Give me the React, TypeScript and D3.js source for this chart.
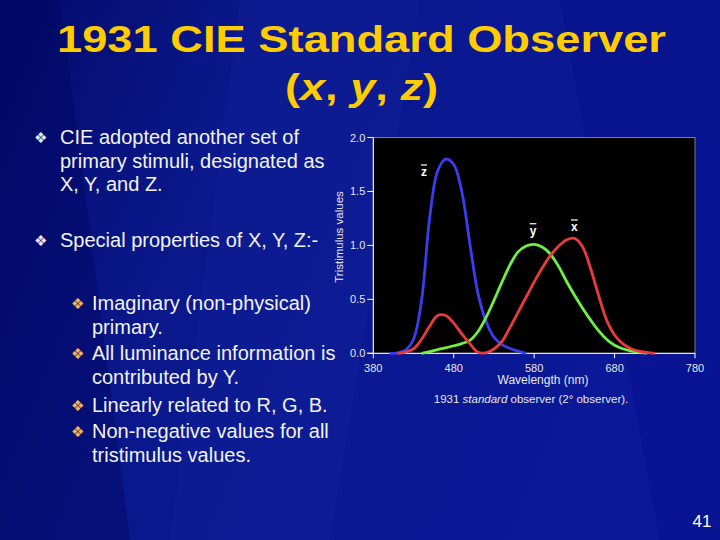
import React from "react";
import * as d3 from "d3";

const wavelengths = [400,410,420,430,440,450,460,470,480,490,500,510,520,530,540,550,560,570,580,590,600,610,620,630,640,650,660,670,680,690,700,710,720,730];
const zBar = [0.0,0.005,0.03,0.13,0.49,1.25,1.69,1.80,1.75,1.50,1.02,0.56,0.30,0.15,0.08,0.045,0.02,0.0,null,null,null,null,null,null,null,null,null,null,null,null,null,null,null,null];
const xBar = [null,0.0,0.01,0.04,0.13,0.25,0.35,0.35,0.28,0.18,0.09,0.01,0.005,0.04,0.11,0.24,0.38,0.52,0.66,0.79,0.905,0.99,1.05,1.065,0.99,0.79,0.54,0.31,0.17,0.09,0.045,0.02,0.008,0.0];
const yBar = [null,null,null,null,0.0,0.015,0.035,0.05,0.07,0.09,0.12,0.20,0.33,0.49,0.66,0.82,0.94,0.995,1.01,0.985,0.92,0.81,0.67,0.54,0.42,0.31,0.21,0.13,0.075,0.042,0.022,0.01,0.0,null];

const xTicks = [380,480,580,680,780];
const yTicks = [0,0.5,1.0,1.5,2.0];

const seriesNames = ["z", "y", "x"];
const seriesColors = ["#3c3cf0", "#70f040", "#e83c3c"];
const labelPos = [[443, 1.64], [578.6, 1.095], [630, 1.13]];

const bullets1 = [["CIE adopted another set of", "primary stimuli, designated as", "X, Y, and Z."], ["Special properties of X, Y, Z:-"]];
const bullets2 = [["Imaginary (non-physical)", "primary."], ["All luminance information is", "contributed by Y."], ["Linearly related to R, G, B."], ["Non-negative values for all", "tristimulus values."]];

export default function App() {
  const W = 720, H = 540;
  const left = 373.3, right = 695, top = 137.5, bottom = 353.3;
  const x = d3.scaleLinear().domain([380, 780]).range([left, right]);
  const y = d3.scaleLinear().domain([0, 2]).range([bottom, top]);
  const series = [zBar, yBar, xBar];
  const line = d3.line<[number, number | null]>()
    .defined(d => d[1] !== null)
    .x(d => x(d[0]))
    .y(d => y(d[1] as number))
    .curve(d3.curveCatmullRom.alpha(0.5));
  const font = "'Liberation Sans', Arial, sans-serif";
  const b1Lines: { t: string; y: number; bullet: boolean }[] = [];
  const b1Base = [144, 246.5];
  bullets1.forEach((b, i) => b.forEach((t, j) => b1Lines.push({ t, y: b1Base[i] + j * 23.5, bullet: j === 0 })));
  const b2Lines: { t: string; y: number; bullet: boolean }[] = [];
  const b2Base = [310, 360, 411.5, 438];
  bullets2.forEach((b, i) => b.forEach((t, j) => b2Lines.push({ t, y: b2Base[i] + j * 23.5, bullet: j === 0 })));

  return (
    <svg width={W} height={H} style={{ position: "absolute", left: 0, top: 0, display: "block" }} fontFamily={font}>
      <defs>
        <linearGradient id="bg" x1="0" y1="0" x2="1" y2="0.3">
          <stop offset="0" stopColor="#020a6a" />
          <stop offset="0.35" stopColor="#0a188c" />
          <stop offset="1" stopColor="#0b1898" />
        </linearGradient>
      </defs>
      <rect x={0} y={0} width={W} height={H} fill="url(#bg)" />
      <polygon points="0,0 60,0 130,540 0,540" fill="#000660" opacity={0.45} />
      <polygon points="240,0 420,0 330,540 170,540" fill="#1a2aa8" opacity={0.18} />
      <polygon points="560,0 720,0 720,540 660,540" fill="#00087a" opacity={0.25} />

      <text x={57} y={51.7} fontSize={37} fontWeight="bold" fill="#ffcc00" textLength={609} lengthAdjust="spacingAndGlyphs">1931 CIE Standard Observer</text>
      <text x={285} y={100} fontSize={37} fontWeight="bold" fill="#ffcc00" textLength={153} lengthAdjust="spacingAndGlyphs">
        (<tspan fontStyle="italic">x</tspan>, <tspan fontStyle="italic">y</tspan>, <tspan fontStyle="italic">z</tspan>)
      </text>

      {b1Lines.map((l, i) => (
        <g key={"b1" + i}>
          {l.bullet && <text x={34} y={l.y - 1} fontSize={15} fill="#e8e8f0" fontFamily="'DejaVu Sans'">❖</text>}
          <text x={60} y={l.y} fontSize={20} fill="#f2f2f2">{l.t}</text>
        </g>
      ))}
      {b2Lines.map((l, i) => (
        <g key={"b2" + i}>
          {l.bullet && <text x={71} y={l.y - 1} fontSize={15} fill="#e8c040" fontFamily="'DejaVu Sans'">❖</text>}
          <text x={92} y={l.y} fontSize={20} fill="#f2f2f2">{l.t}</text>
        </g>
      ))}

      <rect x={left} y={top} width={right - left} height={bottom - top} fill="#000000" stroke="#9a9a9a" strokeWidth={0.8} />
      <line x1={left} x2={left} y1={top} y2={bottom} stroke="#ffffff" strokeWidth={1} />
      <line x1={left - 6} x2={right} y1={bottom} y2={bottom} stroke="#ffffff" strokeWidth={1} />
      {yTicks.map(t => (
        <g key={"yt" + t}>
          <line x1={left - 6} x2={left} y1={y(t)} y2={y(t)} stroke="#ffffff" />
          <text x={left - 8} y={y(t) + 4} textAnchor="end" fontSize={11} fill="#e6e6e6">{t.toFixed(1)}</text>
        </g>
      ))}
      {xTicks.map(t => (
        <g key={"xt" + t}>
          <line x1={x(t)} x2={x(t)} y1={bottom} y2={bottom + 5} stroke="#ffffff" />
          <text x={x(t)} y={372} textAnchor="middle" fontSize={11} fill="#e6e6e6">{t}</text>
        </g>
      ))}
      <text x={543} y={383.5} textAnchor="middle" fontSize={12} fill="#e6e6e6">Wavelength (nm)</text>
      <text x={531} y={403} textAnchor="middle" fontSize={11.5} fill="#e6e6e6">1931 <tspan fontStyle="italic">standard</tspan> observer (2° observer).</text>
      <text transform={`translate(343,237) rotate(-90)`} textAnchor="middle" fontSize={11.5} fill="#e6e6e6">Tristimulus values</text>

      {series.map((s, i) => {
        const pts = wavelengths.map((w, k) => [w, s[k]] as [number, number | null]);
        return <path key={"s" + i} d={line(pts) || ""} fill="none" stroke={seriesColors[i]} strokeWidth={2.8} strokeLinejoin="round" />;
      })}
      {seriesNames.map((n, i) => (
        <text key={"lab" + n} x={x(labelPos[i][0])} y={y(labelPos[i][1])} textAnchor="middle" fontSize={12} fontWeight="bold" fill="#ffffff" style={{ textDecoration: "overline" }}>{n}</text>
      ))}

      <text x={702} y={527} textAnchor="middle" fontSize={17} fill="#ffffff">41</text>
    </svg>
  );
}
